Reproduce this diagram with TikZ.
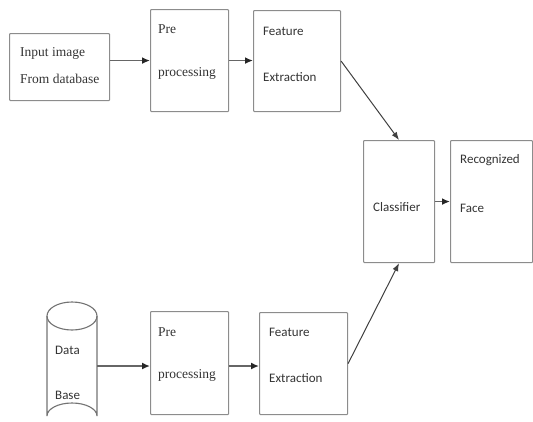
\documentclass[tikz,border=0pt]{standalone}
\usepackage{fontspec}
\newfontfamily\timesf{Liberation Serif}
\newfontfamily\calib{Carlito}
\usetikzlibrary{arrows.meta}
\begin{document}
\begin{tikzpicture}[x=1pt,y=-1pt,
  boxst/.style={draw=black!45,line width=1.1pt,rounded corners=0.8pt,inner sep=0pt,anchor=north west},
  serift/.style={anchor=west,inner sep=0pt,font=\timesf\fontsize{13.5}{15}\selectfont,text=black!80},
  sanst/.style={anchor=west,inner sep=0pt,font=\calib\fontsize{13}{15}\selectfont,text=black!80},
  harrow/.style={draw=black!60,line width=1.6pt,-{Latex[length=8pt,width=7pt,color=black!85]}},
  darrow/.style={draw=black!75,line width=1pt,-{Latex[length=8pt,width=6pt]}}]
\useasboundingbox (0,0) rectangle (533,421);
% top row
\node[boxst,minimum width=100pt,minimum height=67pt] (in) at (9,33) {};
\node[boxst,minimum width=78pt,minimum height=102pt] (pre1) at (150,9) {};
\node[boxst,minimum width=87pt,minimum height=101pt] (feat1) at (253,10) {};
% right
\node[boxst,minimum width=71pt,minimum height=122pt] (cls) at (363,140) {};
\node[boxst,minimum width=82pt,minimum height=122pt] (face) at (450,140) {};
% bottom row
\node[boxst,minimum width=78pt,minimum height=103pt] (pre2) at (150,311) {};
\node[boxst,minimum width=88pt,minimum height=102pt] (feat2) at (259,312) {};
% cylinder
\draw[draw=black!55,line width=1.1pt] (47,316) -- (47,416) arc[start angle=180,end angle=360,x radius=25,y radius=13] -- (97,316);
\draw[draw=black!55,line width=1.1pt] (72,316) ellipse[x radius=25,y radius=14];
\coordinate (db) at (97,366);
% texts
\node[serift] (t1) at (20,53) {Input image};
\node[serift] (t2) at (20,79) {From database};
\node[serift] (t3) at (158,29) {Pre};
\node[serift] (t4) at (158,73) {processing};
\node[sanst] (t5) at (263,31) {Feature};
\node[sanst] (t6) at (263,77) {Extraction};
\node[sanst] (t7) at (373,207) {Classifier};
\node[sanst] (t8) at (460,160) {Recognized};
\node[sanst] (t9) at (460,208) {Face};
\node[sanst] (t10) at (55,350) {Data};
\node[sanst] (t11) at (55,395) {Base};
\node[serift] (t12) at (158,332) {Pre};
\node[serift] (t13) at (158,375) {processing};
\node[sanst] (t14) at (269,332) {Feature};
\node[sanst] (t15) at (269,378) {Extraction};
% arrows
\draw[harrow] (pre1.west -| in.east) -- (pre1.west);
\draw[harrow] (pre1.east) -- (pre1.east -| feat1.west);
\draw[darrow] (feat1.east) -- (cls.north);
\draw[darrow] (feat2.east) -- (cls.south);
\draw[harrow] (cls.east) -- (cls.east -| face.west);
\draw[harrow] (db) -- (db -| pre2.west);
\draw[harrow] (db -| pre2.east) -- (db -| feat2.west);
\end{tikzpicture}
\end{document}
